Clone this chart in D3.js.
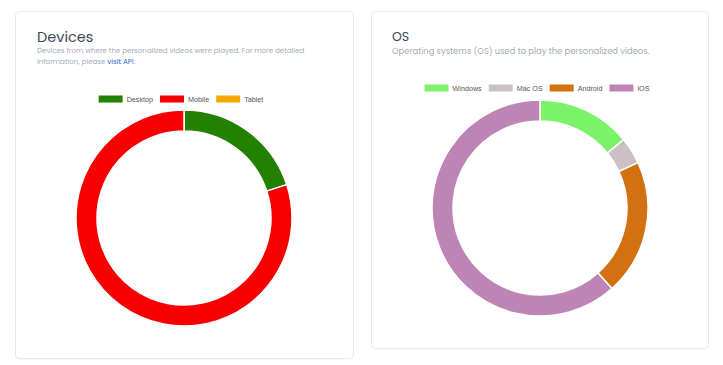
<!DOCTYPE html>
<html>
<head>
<meta charset="utf-8">
<script src="https://cdn.jsdelivr.net/npm/d3@7/dist/d3.min.js"></script>
<style>
  html, body { margin: 0; padding: 0; background: #ffffff; }
  svg { display: block; }
</style>
</head>
<body>
<svg id="chart" width="723" height="365"></svg>
<script>
// ---- Data ----
const deviceCategories = ["Desktop", "Mobile", "Tablet"];
const deviceValues = [20, 80, 0];
const deviceColors = ["#228200", "#f60000", "#f6a800"];

const osCategories = ["Windows", "Mac OS", "Android", "iOS"];
const osValues = [14.1, 4.0, 20.3, 61.6];
const osColors = ["#7cf26b", "#cbc0c3", "#d27012", "#be84b6"];

const svg = d3.select("#chart");
const titleFont = "Poppins, Inter, 'Open Sans', sans-serif";
const legendFont = "'Liberation Sans', Arial, Helvetica, sans-serif";

function card(x, y, w, h) {
  svg.append("rect")
    .attr("x", x + 0.5).attr("y", y + 1.5).attr("width", w).attr("height", h)
    .attr("rx", 4).attr("fill", "#f1f2f4");
  svg.append("rect")
    .attr("x", x + 0.5).attr("y", y + 0.5).attr("width", w).attr("height", h)
    .attr("rx", 4).attr("fill", "#ffffff").attr("stroke", "#e7e9ec").attr("stroke-width", 1);
}

function donut(cats, vals, colors, cx, cy, rOuter, rInner, legendY) {
  const pie = d3.pie().sort(null).value(d => d.v);
  const data = pie(cats.map((c, i) => ({ c, v: vals[i], col: colors[i] })));
  const arc = d3.arc().innerRadius(rInner).outerRadius(rOuter);
  const g = svg.append("g").attr("transform", `translate(${cx},${cy})`);
  g.selectAll("path").data(data.filter(d => d.data.v > 0)).join("path")
    .attr("d", arc)
    .attr("fill", d => d.data.col)
    .attr("stroke", "#ffffff")
    .attr("stroke-width", 1.5)
    .attr("stroke-linejoin", "round");

  // legend
  const lg = svg.append("g");
  const items = lg.selectAll("g").data(cats).join("g");
  items.append("rect").attr("width", 24).attr("height", 7)
    .attr("fill", (d, i) => colors[i]);
  items.append("text").text(d => d)
    .attr("x", 28).attr("y", 6)
    .attr("font-family", legendFont).attr("font-size", 7.2)
    .attr("fill", "#555555");
  let x = 0;
  const pos = [];
  items.each(function () {
    const tw = d3.select(this).select("text").node().getComputedTextLength();
    pos.push(x);
    x += 28 + tw + 7;
  });
  const total = x - 7;
  const start = cx - 3 - total / 2;
  items.attr("transform", (d, i) => `translate(${start + pos[i]},${legendY - 3.5})`);
}

// Left card
card(15, 11, 338, 347);
svg.append("text").attr("x", 37).attr("y", 42).text("Devices")
  .attr("font-family", titleFont).attr("font-size", 14.5).attr("fill", "#3d4854");
const sub1 = svg.append("text").attr("font-family", titleFont).attr("font-size", 7.1).attr("fill", "#a3acb6");
sub1.append("tspan").attr("x", 37).attr("y", 53).text("Devices from where the personalized videos were played. For more detailed");
const l2 = sub1.append("tspan").attr("x", 37).attr("y", 63.5);
l2.text("information, please ");
sub1.append("tspan").attr("fill", "#1f63e0").text("visit API");
sub1.append("tspan").text(".");

donut(deviceCategories, deviceValues, deviceColors, 184, 218, 108, 87, 99);

// Right card
card(371, 11, 337, 337);
svg.append("text").attr("x", 392).attr("y", 40.5).text("OS")
  .attr("font-family", titleFont).attr("font-size", 12.5).attr("fill", "#3d4854");
svg.append("text").attr("x", 392).attr("y", 53.5)
  .text("Operating systems (OS) used to play the personalized videos.")
  .attr("font-family", titleFont).attr("font-size", 8.4).attr("fill", "#a3acb6");

donut(osCategories, osValues, osColors, 540, 208, 108, 87, 88);
</script>
</body>
</html>
